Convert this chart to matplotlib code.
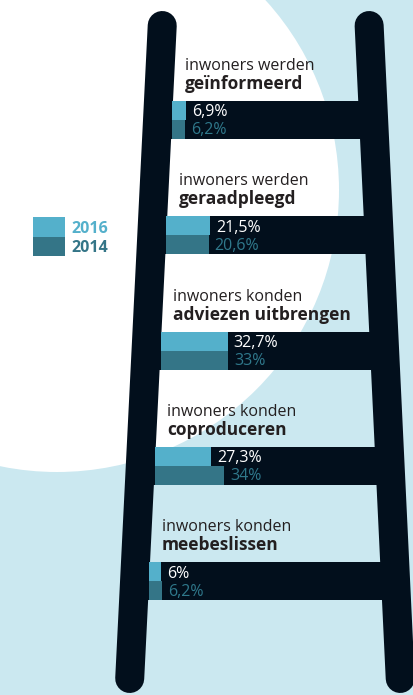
import matplotlib
matplotlib.use("Agg")
import matplotlib.pyplot as plt
from matplotlib.patches import Circle, Rectangle

# ---- data ----
label_line1 = ["inwoners werden", "inwoners werden", "inwoners konden",
               "inwoners konden", "inwoners konden"]
label_line2 = ["geïnformeerd", "geraadpleegd", "adviezen uitbrengen",
               "coproduceren", "meebeslissen"]
values_2016 = [6.9, 21.5, 32.7, 27.3, 6.0]
values_2014 = [6.2, 20.6, 33.0, 34.0, 6.2]
text_2016 = ["6,9%", "21,5%", "32,7%", "27,3%", "6%"]
text_2014 = ["6,2%", "20,6%", "33%", "34%", "6,2%"]
series_names = ["2016", "2014"]

# ---- style ----
W, H = 414, 695
BG = "#cbe8f0"
DARK = "#020f1c"
C2016 = "#54b0cb"
C2014 = "#347587"
TXT2014 = "#2f788b"
LABEL = "#231f20"
FONT = ["Open Sans", "DejaVu Sans"]

fig = plt.figure(figsize=(W / 100, H / 100), dpi=100)
ax = fig.add_axes([0, 0, 1, 1])
ax.set_xlim(0, W)
ax.set_ylim(H, 0)
ax.axis("off")
fig.patch.set_facecolor(BG)
ax.set_facecolor(BG)

# background white circle
ax.add_patch(Circle((57, 190), 282, facecolor="white", edgecolor="none", zorder=1))

# ladder rails
rail_w = 29
lw_pt = rail_w * 72 / 100


def left_cx(y):
    return 163 - 0.0498 * (y - 10)


def right_cx(y):
    return 368.5 + 0.0476 * (y - 12)


top_y, bot_y = 11 + rail_w / 2, 693 - rail_w / 2
ax.plot([left_cx(top_y), left_cx(bot_y)], [top_y, bot_y], color=DARK,
        lw=lw_pt, solid_capstyle="round", zorder=3)
ax.plot([right_cx(top_y), right_cx(bot_y)], [top_y, bot_y], color=DARK,
        lw=lw_pt, solid_capstyle="round", zorder=3)

# rungs with bars
rung_top0 = 101
rung_step = 115.3
rung_h = 38
half = rung_h / 2
px_per_pct = 2.05

for i in range(len(values_2016)):
    top = rung_top0 + i * rung_step
    mid = top + half
    lx = left_cx(mid)
    rx = right_cx(mid)
    start = lx + rail_w / 2
    ax.barh(mid, rx - lx, left=lx, height=rung_h, color=DARK, zorder=4)
    ax.barh(top + half / 2, values_2016[i] * px_per_pct, left=start,
            height=half, color=C2016, zorder=5)
    ax.barh(top + half * 1.5, values_2014[i] * px_per_pct, left=start,
            height=half, color=C2014, zorder=5)
    end16 = start + values_2016[i] * px_per_pct
    end14 = start + values_2014[i] * px_per_pct
    ax.text(end16 + 6, top + 15.5, text_2016[i], color="white", fontsize=11.5,
            family=FONT, va="baseline", ha="left", zorder=6)
    ax.text(end14 + 6, top + 33.5, text_2014[i], color=TXT2014, fontsize=11.5,
            family=FONT, va="baseline", ha="left", zorder=6)
    ax.text(start + 12.5, top - 31, label_line1[i], color=LABEL, fontsize=11.5,
            family=FONT, va="baseline", ha="left", zorder=6)
    ax.text(start + 12.5, top - 12, label_line2[i], color=LABEL, fontsize=12.5,
            family=FONT, fontweight="bold", va="baseline", ha="left", zorder=6)

# legend
leg_colors = [C2016, C2014]
leg_text_colors = [C2016, C2014]
for j, name in enumerate(series_names):
    y0 = 217 + j * 19.5
    ax.add_patch(Rectangle((33, y0), 32, 19.5, facecolor=leg_colors[j],
                           edgecolor="none", zorder=5))
    ax.text(71.5, y0 + 16, name, color=leg_text_colors[j], fontsize=11.5,
            family=FONT, fontweight="bold", va="baseline", ha="left", zorder=6)

fig.savefig("out.png", dpi=100, facecolor=BG)
